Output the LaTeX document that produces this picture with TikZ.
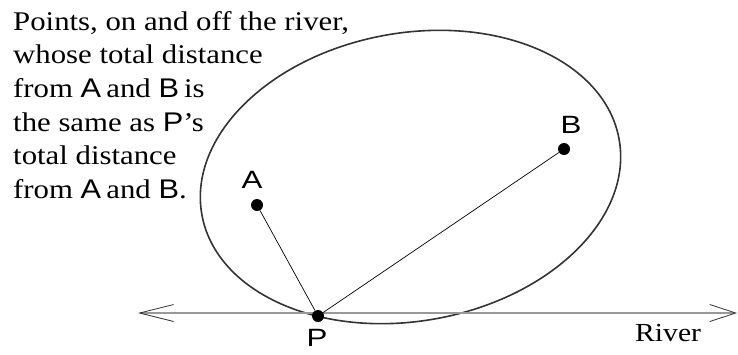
\documentclass[tikz,border=0pt]{standalone}
\usepackage{graphicx}
\usepackage{fontspec}
\setmainfont{Liberation Serif}
\newfontfamily\arialf{Liberation Sans}
\usetikzlibrary{arrows.meta}
\newcommand{\wide}[1]{\scalebox{1.14}[1]{#1}}
\newcommand{\swide}[1]{\scalebox{1.25}[1]{#1}}
\tikzset{
  txt/.style={anchor=base west, inner sep=0pt, font=\fontsize{27}{27}\selectfont},
  lbl/.style={anchor=base, inner sep=0pt, font=\arialf\fontsize{25}{25}\selectfont},
  dot/.style={circle, fill=black, inner sep=0pt, minimum size=12pt},
  seg/.style={line width=0.7pt, black},
  curve/.style={line width=1.6pt, black!80},
  river/.style={line width=1.8pt, black!40,
    {Straight Barb[length=34pt, width=17pt, line width=0.8pt, color=black!80]}-{Straight Barb[length=26pt, width=17pt, line width=0.8pt, color=black!80]}}
}
\begin{document}
\begin{tikzpicture}[x=1pt, y=-1pt]
\useasboundingbox (0,0) rectangle (738,354);
% ellipse
\coordinate (C) at (410.5,177);
\draw[curve, rotate around={10.3:(C)}] (C) ellipse (212pt and 144pt);
% river
\coordinate (L) at (138,313);
\coordinate (R) at (737,313);
\draw[river] (L) -- (R);
% points
\node[dot] (A) at (257,205) {};
\node[dot] (B) at (564,149) {};
\node[dot] (P) at (318,316) {};
\draw[seg] (A) -- (P);
\draw[seg] (B) -- (P);
% labels
\node[lbl] (la) at (252,188) {\swide{A}};
\node[lbl] (lb) at (571,133) {\swide{B}};
\node[lbl] (lp) at (317,346) {\swide{P}};
\node[txt, font=\fontsize{26}{26}\selectfont] (river) at (635,341) {\wide{River}};
% text
\node[txt] (t1) at (13,30) {\wide{Points, on and off the river,}};
\node[txt] (t2) at (13,63) {\wide{whose total distance}};
\node[txt] (t3) at (13,97) {\wide{from {\arialf A}\,and {\arialf B}\,is}};
\node[txt] (t4) at (13,131) {\wide{the same as {\arialf P}’s}};
\node[txt] (t5) at (13,164) {\wide{total distance}};
\node[txt] (t6) at (13,198) {\wide{from {\arialf A}\,and {\arialf B}.}};
\end{tikzpicture}
\end{document}
